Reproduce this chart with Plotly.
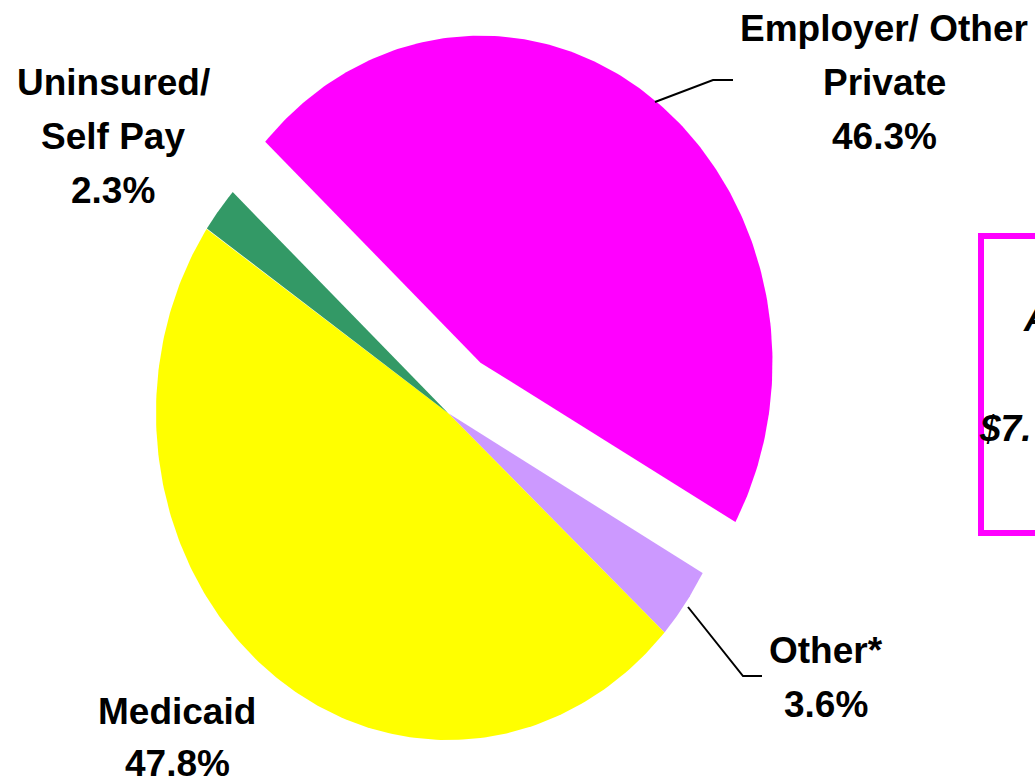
import numpy as np
import plotly.graph_objects as go

# Payer mix
payers = ["Employer/ Other<br>Private", "Other*", "Medicaid", "Uninsured/<br>Self Pay"]
shares = [46.3, 3.6, 47.8, 2.3]
colors = ["#FF00FF", "#CC99FF", "#FFFF00", "#339966"]
pulls = [0.19, 0.0, 0.0, 0.0]

# label placement (pixel space): centre x, first-line y
label_pos = [(884, 28), (826, 650), (177, 711), (113, 82)]

W, H = 1035, 784
CX, CY = 448, 413          # pie centre
RX, RY = 292, 327          # pie radii (slightly tall ellipse)
START = -47.5              # compass angle where the first slice begins (clockwise)
LINE_GAP = 54
FONT = dict(family="Liberation Sans, Arial, sans-serif", size=37, color="black")

fig = go.Figure()

total = float(sum(shares))
edges = START + 360.0 * np.concatenate([[0], np.cumsum(shares)]) / total

for i, (name, val, col) in enumerate(zip(payers, shares, colors)):
    a0, a1 = edges[i], edges[i + 1]
    mid = np.radians((a0 + a1) / 2)
    ox = pulls[i] * RX * np.sin(mid)
    oy = -pulls[i] * RY * np.cos(mid)
    th = np.radians(np.linspace(a0, a1, 200))
    xs = np.concatenate([[CX + ox], CX + ox + RX * np.sin(th), [CX + ox]])
    ys = np.concatenate([[CY + oy], CY + oy - RY * np.cos(th), [CY + oy]])
    fig.add_trace(go.Scatter(
        x=xs, y=ys, mode="lines", fill="toself", fillcolor=col,
        line=dict(width=0, color=col), name=name.replace("<br>", " "),
        hoverinfo="name", showlegend=False,
    ))

    # label: name lines followed by the percentage
    lines = name.split("<br>") + [f"{val:.1f}%"]
    lx, ly = label_pos[i]
    gap = LINE_GAP if i != 2 else 52
    for k, t in enumerate(lines):
        fig.add_annotation(x=lx, y=ly + k * gap, text=f"<b>{t}</b>",
                           showarrow=False, xanchor="center", yanchor="middle",
                           font=FONT)

# leader lines
fig.add_shape(type="path", path="M 655 102 L 713 80 L 733 80",
              line=dict(color="black", width=2))
fig.add_shape(type="path", path="M 688 607 L 743 676 L 762 676",
              line=dict(color="black", width=2))

# side panel
fig.add_shape(type="rect", x0=981, y0=236, x1=1060, y1=533,
              line=dict(color="#FF00FF", width=6), fillcolor="rgba(0,0,0,0)")
fig.add_annotation(x=1021, y=318, text="<b><i>A</i></b>", showarrow=False,
                   xanchor="left", yanchor="middle", font=FONT)
fig.add_annotation(x=977, y=428, text="<b><i>$7.</i></b>", showarrow=False,
                   xanchor="left", yanchor="middle", font=FONT)

fig.update_xaxes(range=[0, W], visible=False, fixedrange=True)
fig.update_yaxes(range=[H, 0], visible=False, fixedrange=True)
fig.update_layout(width=W, height=H, autosize=False,
                  margin=dict(l=0, r=0, t=0, b=0),
                  paper_bgcolor="white", plot_bgcolor="white")

fig.write_html("out.html")
